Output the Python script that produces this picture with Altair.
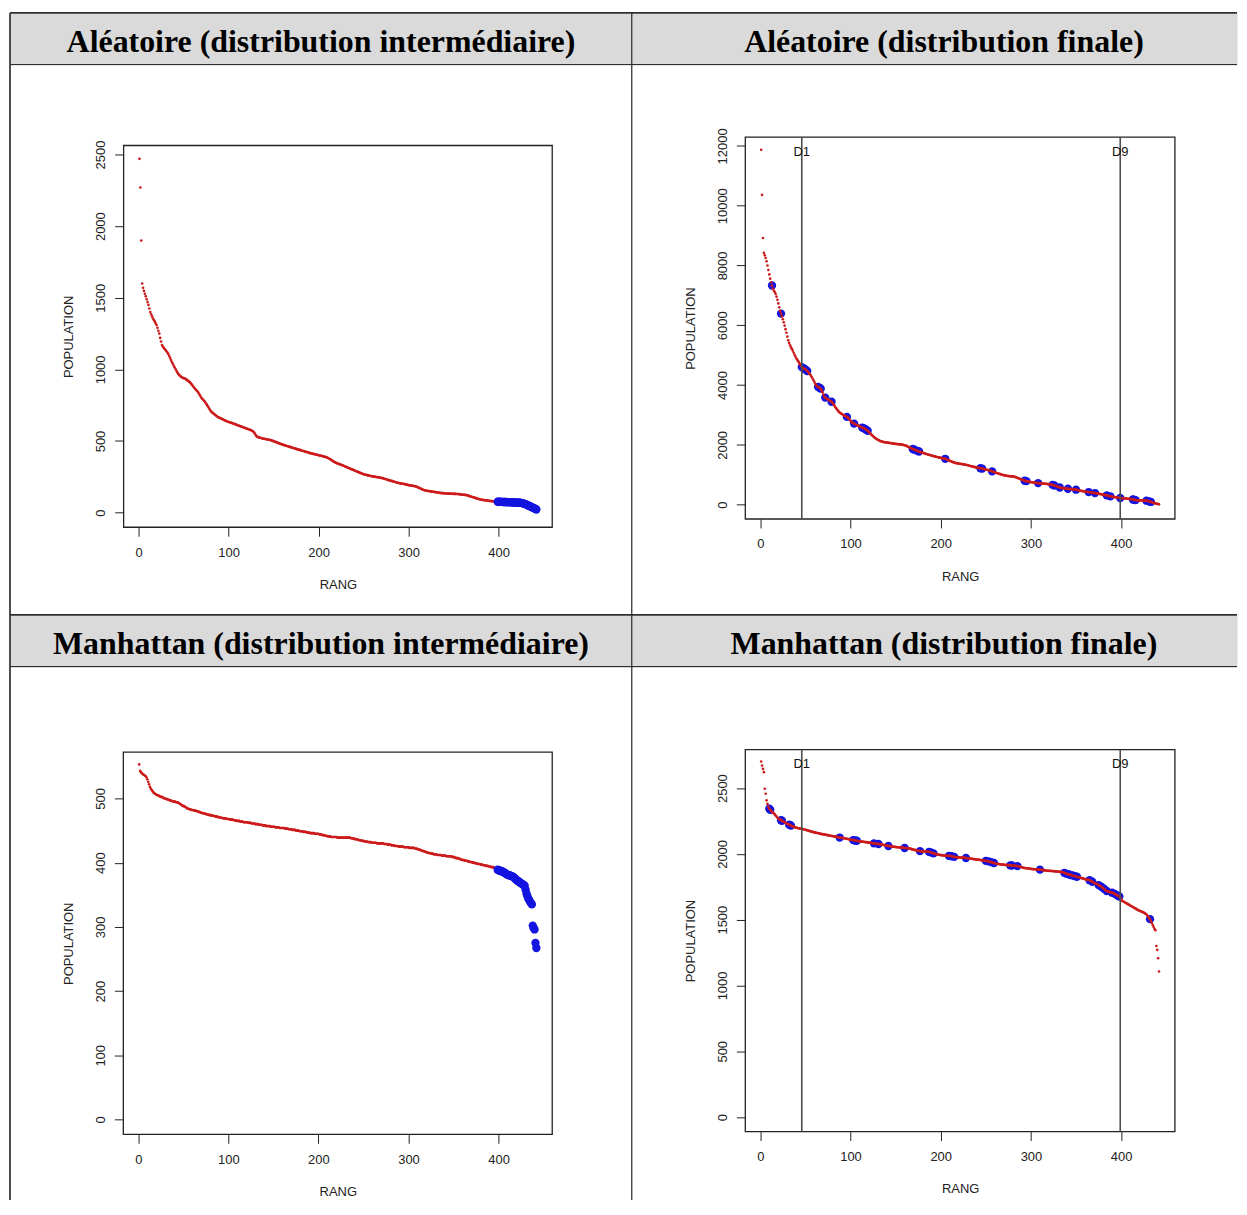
import altair as alt
import pandas as pd

# ---------------- data ----------------
titles = ["Aléatoire (distribution intermédiaire)", "Aléatoire (distribution finale)",
          "Manhattan (distribution intermédiaire)", "Manhattan (distribution finale)"]

rang_ticks = [0, 100, 200, 300, 400]

pop_alea_inter = [
    2470, 2270, 1900, 1600, 1570, 1548, 1528, 1510, 1490, 1470, 1450, 1425, 1400, 1385, 1370, 1355, 1345, 1335, 1322, 1310,
    1290, 1270, 1250, 1220, 1195, 1170, 1160, 1150, 1142, 1135, 1127, 1118, 1108, 1094, 1080, 1065, 1052, 1040, 1027, 1015,
    1003, 992, 980, 969, 962, 955, 950, 945, 942, 939, 937, 935, 930, 925, 920, 915, 911, 903, 895, 887,
    878, 870, 863, 856, 849, 842, 832, 821, 810, 800, 793, 786, 779, 772, 762, 752, 742, 732, 722, 712,
    703, 698, 693, 688, 683, 678, 673, 668, 665, 662, 659, 656, 653, 650, 647, 644, 641, 638, 636, 633,
    631, 629, 627, 625, 622, 620, 618, 616, 613, 610, 608, 606, 603, 601, 599, 596, 594, 592, 589, 587,
    585, 582, 580, 578, 575, 572, 568, 563, 553, 543, 534, 529, 527, 525, 523, 521, 519, 517, 516, 515,
    514, 512, 511, 510, 509, 507, 506, 503, 501, 499, 496, 494, 492, 489, 487, 484, 482, 480, 477, 475,
    473, 471, 469, 467, 465, 463, 461, 459, 457, 455, 453, 451, 449, 447, 445, 443, 441, 440, 438, 436,
    434, 432, 430, 428, 426, 424, 423, 421, 419, 417, 415, 413, 412, 410, 409, 407, 406, 404, 403, 401,
    400, 398, 397, 395, 393, 391, 390, 388, 386, 383, 380, 376, 372, 368, 364, 360, 356, 352, 349, 346,
    343, 341, 339, 337, 334, 332, 329, 327, 324, 321, 318, 315, 313, 310, 308, 305, 302, 300, 297, 294,
    291, 289, 286, 283, 281, 278, 276, 273, 271, 268, 266, 265, 263, 262, 260, 259, 257, 256, 254, 253,
    252, 251, 250, 249, 248, 247, 246, 245, 243, 242, 241, 239, 237, 235, 233, 231, 229, 227, 225, 223,
    222, 220, 218, 216, 214, 212, 210, 208, 207, 205, 204, 203, 202, 201, 200, 199, 197, 195, 194, 192,
    191, 190, 189, 188, 187, 186, 184, 183, 181, 178, 175, 172, 169, 166, 163, 160, 158, 156, 154, 153,
    152, 151, 150, 149, 148, 147, 146, 145, 144, 143, 142, 141, 140, 139, 138, 137, 136, 136, 135, 135,
    134, 134, 134, 133, 133, 133, 132, 132, 132, 131, 131, 131, 130, 130, 130, 129, 128, 127, 126, 125,
    125, 124, 124, 123, 121, 119, 117, 115, 113, 111, 109, 107, 105, 103, 101, 99, 97, 95, 93, 92,
    90, 89, 88, 87, 86, 86, 85, 84, 83, 82, 81, 80, 80, 79, 78, 78, 77, 77, 76, 76,
    76, 75, 75, 75, 74, 74, 74, 74, 73, 73, 73, 73, 72, 72, 72, 72, 71, 71, 71, 70,
    70, 70, 69, 69, 68, 67, 65, 63, 61, 59, 56, 53, 50, 47, 44, 41, 38, 35, 32, 29, 26, 22,
]

pop_alea_fin = [
    11870, 10360, 8920, 8420, 8340, 8250, 8140, 8000, 7850, 7700, 7560, 7440, 7330, 7230, 7160, 7110, 7050, 6960, 6850, 6730,
    6600, 6480, 6390, 6300, 6200, 6100, 5990, 5870, 5750, 5620, 5500, 5410, 5330, 5260, 5210, 5150, 5080, 5010, 4950, 4890,
    4850, 4800, 4750, 4700, 4650, 4600, 4580, 4560, 4540, 4520, 4500, 4470, 4440, 4400, 4360, 4320, 4270, 4220, 4160, 4100,
    4040, 3990, 3960, 3940, 3920, 3900, 3880, 3830, 3760, 3680, 3600, 3580, 3560, 3540, 3520, 3500, 3480, 3460, 3440, 3410,
    3370, 3320, 3270, 3230, 3190, 3150, 3110, 3080, 3060, 3040, 3020, 3000, 2980, 2965, 2950, 2935, 2920, 2880, 2840, 2800,
    2770, 2745, 2725, 2710, 2695, 2680, 2665, 2650, 2635, 2620, 2605, 2590, 2578, 2565, 2550, 2535, 2515, 2495, 2470, 2440,
    2410, 2380, 2350, 2320, 2290, 2260, 2235, 2215, 2195, 2175, 2160, 2145, 2130, 2118, 2108, 2100, 2093, 2087, 2082, 2077,
    2072, 2068, 2064, 2060, 2055, 2050, 2045, 2040, 2036, 2032, 2028, 2025, 2022, 2018, 2014, 2010, 2005, 2000, 1993, 1985,
    1978, 1965, 1950, 1935, 1920, 1905, 1890, 1875, 1862, 1850, 1838, 1826, 1814, 1800, 1788, 1778, 1765, 1755, 1745, 1735,
    1725, 1715, 1705, 1695, 1685, 1675, 1667, 1659, 1650, 1641, 1632, 1624, 1616, 1608, 1600, 1593, 1586, 1579, 1572, 1565,
    1558, 1551, 1545, 1539, 1533, 1520, 1507, 1494, 1481, 1468, 1455, 1442, 1430, 1418, 1406, 1395, 1389, 1383, 1378, 1373,
    1368, 1363, 1358, 1353, 1348, 1343, 1338, 1333, 1325, 1317, 1309, 1301, 1293, 1285, 1277, 1269, 1261, 1253, 1246, 1239,
    1233, 1228, 1223, 1218, 1212, 1205, 1197, 1189, 1181, 1173, 1165, 1157, 1149, 1141, 1133, 1125, 1111, 1100, 1090, 1080,
    1070, 1060, 1050, 1040, 1030, 1020, 1010, 1000, 993, 986, 979, 972, 966, 961, 957, 953, 950, 947, 945, 943,
    940, 930, 920, 908, 896, 884, 872, 860, 848, 836, 824, 812, 800, 793, 786, 779, 772, 766, 760, 755,
    750, 745, 740, 735, 731, 727, 724, 721, 718, 715, 712, 709, 706, 703, 700, 697, 694, 691, 688, 685,
    680, 675, 668, 660, 650, 640, 630, 620, 608, 595, 580, 572, 566, 560, 555, 550, 545, 540, 536, 533,
    530, 527, 524, 521, 518, 515, 512, 509, 505, 500, 493, 486, 479, 472, 465, 458, 452, 446, 440, 435,
    431, 427, 424, 421, 416, 411, 406, 401, 396, 391, 387, 382, 376, 370, 364, 358, 352, 346, 340, 334,
    328, 322, 316, 310, 302, 294, 286, 278, 272, 266, 261, 256, 251, 246, 241, 236, 231, 227, 223, 219,
    216, 213, 210, 207, 204, 201, 198, 195, 192, 189, 185, 180, 172, 166, 160, 152, 148, 146, 144, 143,
    142, 141, 140, 139, 138, 136, 134, 132, 128, 120, 110, 100, 90, 80, 70, 60, 50, 42, 34, 26, 18, 10,
]

pop_manh_inter = [
    553, 543, 541, 539, 538, 537, 536, 535, 533, 530, 526, 522, 518, 515, 513, 511, 509, 508, 507, 506,
    505, 505, 504, 503, 503, 502, 502, 501, 500, 500, 499, 499, 498, 498, 497, 497, 496, 496, 495, 495,
    495, 494, 494, 494, 493, 492, 491, 490, 489, 488, 488, 487, 486, 485, 484, 484, 483, 483, 482, 482,
    482, 481, 481, 481, 480, 480, 479, 479, 478, 478, 477, 477, 477, 476, 476, 475, 475, 475, 474, 474,
    474, 473, 473, 473, 472, 472, 472, 471, 471, 471, 470, 470, 470, 469, 469, 469, 469, 468, 468, 468,
    468, 467, 467, 467, 467, 466, 466, 466, 465, 465, 465, 465, 464, 464, 464, 464, 463, 463, 463, 463,
    463, 462, 462, 462, 462, 461, 461, 461, 461, 460, 460, 460, 460, 459, 459, 459, 459, 458, 458, 458,
    458, 457, 457, 457, 457, 457, 456, 456, 456, 456, 456, 455, 455, 455, 455, 455, 454, 454, 454, 454,
    454, 454, 453, 453, 453, 453, 452, 452, 452, 452, 451, 451, 451, 451, 450, 450, 450, 450, 449, 449,
    449, 449, 448, 448, 448, 448, 447, 447, 447, 447, 446, 446, 446, 446, 446, 445, 445, 445, 445, 445,
    444, 444, 444, 443, 443, 443, 442, 442, 442, 441, 441, 441, 441, 440, 440, 440, 440, 440, 440, 440,
    439, 439, 439, 439, 439, 439, 439, 439, 439, 439, 439, 439, 439, 439, 439, 438, 438, 438, 437, 437,
    437, 436, 436, 436, 435, 435, 435, 434, 434, 434, 433, 433, 433, 433, 432, 432, 432, 432, 431, 431,
    431, 431, 431, 431, 430, 430, 430, 430, 430, 430, 430, 430, 429, 429, 429, 429, 428, 428, 428, 428,
    427, 427, 427, 427, 426, 426, 426, 426, 425, 425, 425, 425, 425, 425, 424, 424, 424, 424, 424, 424,
    423, 423, 423, 423, 423, 423, 422, 422, 422, 421, 421, 420, 420, 419, 419, 418, 418, 417, 417, 416,
    416, 415, 415, 415, 414, 414, 414, 413, 413, 413, 413, 412, 412, 412, 412, 412, 411, 411, 411, 411,
    411, 410, 410, 410, 410, 410, 410, 409, 409, 409, 408, 408, 407, 407, 407, 406, 406, 405, 405, 404,
    404, 404, 403, 403, 403, 402, 402, 401, 401, 401, 400, 400, 400, 399, 399, 399, 398, 398, 398, 397,
    397, 397, 396, 396, 396, 395, 395, 395, 394, 394, 394, 393, 393, 393, 392, 392, 391, 390, 389, 388,
    388, 387, 387, 386, 386, 385, 384, 383, 382, 381, 381, 380, 380, 379, 379, 378, 377, 376, 374, 373,
    372, 371, 370, 369, 368, 367, 366, 365, 364, 358, 352, 348, 344, 342, 339, 337, 335, 302, 298, 296, 275, 267,
]

pop_manh_fin = [
    2702, 2672, 2646, 2621, 2495, 2457, 2407, 2380, 2357, 2343, 2335, 2327, 2320, 2314, 2308, 2300, 2292, 2284, 2276, 2268,
    2264, 2260, 2256, 2252, 2248, 2244, 2240, 2236, 2232, 2228, 2225, 2222, 2219, 2215, 2211, 2208, 2205, 2203, 2201, 2199,
    2197, 2195, 2194, 2193, 2192, 2191, 2189, 2187, 2185, 2183, 2181, 2179, 2177, 2175, 2173, 2171, 2169, 2167, 2165, 2163,
    2161, 2160, 2159, 2158, 2156, 2154, 2152, 2151, 2150, 2148, 2147, 2146, 2144, 2143, 2142, 2140, 2139, 2138, 2136, 2135,
    2134, 2133, 2131, 2130, 2129, 2127, 2126, 2124, 2123, 2122, 2121, 2120, 2118, 2117, 2116, 2115, 2113, 2112, 2110, 2108,
    2107, 2106, 2105, 2104, 2102, 2101, 2100, 2098, 2097, 2096, 2095, 2094, 2093, 2092, 2091, 2090, 2089, 2088, 2087, 2086,
    2085, 2084, 2083, 2082, 2081, 2080, 2079, 2078, 2077, 2076, 2075, 2074, 2073, 2072, 2070, 2069, 2067, 2066, 2064, 2062,
    2061, 2060, 2059, 2058, 2057, 2056, 2055, 2054, 2053, 2052, 2051, 2050, 2050, 2049, 2049, 2048, 2047, 2047, 2046, 2045,
    2045, 2044, 2043, 2042, 2041, 2040, 2038, 2036, 2034, 2032, 2030, 2028, 2026, 2024, 2023, 2022, 2021, 2020, 2019, 2019,
    2018, 2018, 2017, 2017, 2016, 2016, 2015, 2014, 2012, 2010, 2007, 2004, 2002, 2000, 1998, 1996, 1995, 1993, 1992, 1991,
    1990, 1989, 1988, 1988, 1987, 1987, 1986, 1986, 1985, 1985, 1984, 1982, 1980, 1978, 1977, 1976, 1975, 1974, 1974, 1973,
    1973, 1972, 1972, 1971, 1971, 1970, 1970, 1969, 1968, 1967, 1966, 1965, 1964, 1963, 1962, 1961, 1960, 1959, 1958, 1957,
    1956, 1955, 1954, 1953, 1952, 1951, 1950, 1949, 1948, 1947, 1946, 1945, 1943, 1941, 1939, 1937, 1935, 1933, 1931, 1929,
    1927, 1925, 1924, 1923, 1922, 1921, 1920, 1919, 1918, 1917, 1916, 1916, 1915, 1915, 1914, 1914, 1913, 1913, 1912, 1912,
    1911, 1910, 1909, 1908, 1907, 1906, 1904, 1902, 1900, 1898, 1896, 1894, 1893, 1892, 1891, 1890, 1889, 1888, 1887, 1886,
    1885, 1884, 1884, 1883, 1883, 1882, 1882, 1881, 1881, 1880, 1879, 1878, 1877, 1876, 1875, 1874, 1873, 1872, 1872, 1871,
    1871, 1870, 1870, 1869, 1869, 1868, 1867, 1867, 1866, 1866, 1865, 1864, 1863, 1862, 1861, 1859, 1856, 1853, 1850, 1848,
    1846, 1844, 1842, 1840, 1838, 1836, 1834, 1832, 1830, 1828, 1826, 1824, 1822, 1820, 1818, 1816, 1814, 1812, 1810, 1808,
    1806, 1804, 1803, 1802, 1800, 1796, 1792, 1788, 1784, 1780, 1777, 1774, 1771, 1767, 1763, 1759, 1755, 1750, 1745, 1740,
    1735, 1728, 1722, 1718, 1715, 1713, 1711, 1709, 1707, 1705, 1702, 1699, 1696, 1692, 1688, 1684, 1680, 1676, 1668, 1656,
    1644, 1640, 1636, 1632, 1628, 1624, 1620, 1616, 1612, 1608, 1604, 1600, 1596, 1592, 1588, 1584, 1580, 1576, 1572, 1569,
    1566, 1563, 1560, 1557, 1554, 1550, 1545, 1540, 1532, 1522, 1512, 1504, 1490, 1475, 1460, 1445, 1430, 1420, 1300, 1270, 1207, 1106,
]

# ranks highlighted in blue
blue_alea_inter = list(range(399, 443))
blue_alea_fin = [13, 23, 46, 48, 50, 52, 64, 66, 67, 72, 79, 96, 104, 113, 115, 117, 119, 169, 171, 174, 176,
                 205, 244, 246, 257, 293, 295, 308, 324, 326, 332, 341, 350, 364, 371, 384, 388, 399, 413, 414,
                 416, 428, 431, 433]
blue_manh_inter = list(range(399, 443))
blue_manh_fin = [10, 11, 23, 24, 32, 33, 34, 88, 103, 105, 107, 126, 131, 142, 160, 177, 187, 189, 192, 209,
                 212, 215, 228, 250, 253, 256, 259, 277, 279, 285, 310, 337, 339, 341, 343, 345, 348, 351, 365,
                 368, 375, 378, 381, 384, 390, 393, 396, 398, 432]

deciles = [46, 399]
decile_labels = ["D1", "D9"]

yticks_alea_inter = [0, 500, 1000, 1500, 2000, 2500]
yticks_alea_fin = [0, 2000, 4000, 6000, 8000, 10000, 12000]
yticks_manh_inter = [0, 100, 200, 300, 400, 500]
yticks_manh_fin = [0, 500, 1000, 1500, 2000, 2500]

# ---------------- style / layout ----------------
SANS = "Liberation Sans, Arial, sans-serif"
SERIF = "Liberation Serif, Times New Roman, serif"
RED = "#cc1a1a"
BLUE = "#1414e0"
LINE = "#2e2e2e"
LW = 1.7
HEAD_FILL = "#dadada"
HEAD_H = 52
BODY_H = [552, 535]
COL_W = [624, 607]
XDOM = [-16.6, 459.6]
ONE = pd.DataFrame({"k": [0]})


def hline(y, w):
    return alt.Chart(ONE).mark_rule(color=LINE, strokeWidth=LW).encode(
        x=alt.value(0), x2=alt.value(w), y=alt.value(y))


def vline(x, h):
    return alt.Chart(ONE).mark_rule(color=LINE, strokeWidth=LW).encode(
        x=alt.value(x), y=alt.value(0), y2=alt.value(h))


def header(title, w, cx, left_col):
    txt = alt.Chart(pd.DataFrame({"t": [title]})).mark_text(
        font=SERIF, fontSize=32, fontWeight="bold", color="black",
        baseline="alphabetic", align="center"
    ).encode(text="t:N", x=alt.value(cx), y=alt.value(39))
    layers = [txt, hline(0, w), hline(HEAD_H, w)]
    if left_col:
        layers += [vline(0, HEAD_H), vline(w, HEAD_H)]
    return alt.layer(*layers).properties(
        width=w, height=HEAD_H,
        view=alt.ViewBackground(fill=HEAD_FILL, stroke="transparent"),
    )


def body(pop, blue, yticks, ydom, box, w, h, left_col, red_on_top, dec_label_y=None):
    x0, x1, y0, y1 = box
    df = pd.DataFrame({"rang": list(range(1, len(pop) + 1)), "pop": pop})
    dfb = df[df["rang"].isin(blue)]
    xs = alt.Scale(domain=XDOM, range=[x0, x1], nice=False, zero=False)
    ys = alt.Scale(domain=ydom, range=[y1, y0], nice=False, zero=False)
    xaxis = alt.Axis(values=rang_ticks, format="d", offset=-(h - y1), labelBaseline="alphabetic",
                     labelAlign="center", labelPadding=20,
                     titleX=(x0 + x1) / 2, titleY=61.3, titleBaseline="alphabetic",
                     titleAlign="center")
    yaxis = alt.Axis(values=yticks, format="d", offset=-x0, labelAngle=270, labelAlign="center",
                     labelBaseline="alphabetic", labelPadding=9.7,
                     titleX=-51.4, titleY=(y0 + y1) / 2, titleAngle=270,
                     titleBaseline="alphabetic", titleAlign="center")
    frame = pd.DataFrame({"rang": [XDOM[0]], "rang2": [XDOM[1]], "pop": [ydom[0]], "pop2": [ydom[1]]})
    box_layer = alt.Chart(frame).mark_rect(fillOpacity=0, stroke="#222222", strokeWidth=1.3).encode(
        x=alt.X("rang:Q", scale=xs, axis=xaxis, title="RANG"),
        x2="rang2:Q",
        y=alt.Y("pop:Q", scale=ys, axis=yaxis, title="POPULATION"),
        y2="pop2:Q",
    )
    red = alt.Chart(df).mark_circle(size=7, color=RED, opacity=1).encode(
        x=alt.X("rang:Q", scale=xs), y=alt.Y("pop:Q", scale=ys))
    blu = alt.Chart(dfb).mark_circle(size=70, color=BLUE, opacity=1).encode(
        x=alt.X("rang:Q", scale=xs), y=alt.Y("pop:Q", scale=ys))
    layers = [box_layer] + ([blu, red] if red_on_top else [red, blu])
    if dec_label_y is not None:
        dd = pd.DataFrame({"rang": deciles, "pop": [ydom[0]] * 2, "pop2": [ydom[1]] * 2,
                           "lab": decile_labels, "ly": [dec_label_y] * 2})
        rules = alt.Chart(dd).mark_rule(color="#4d4d4d", strokeWidth=1.6).encode(
            x=alt.X("rang:Q", scale=xs), y=alt.Y("pop:Q", scale=ys), y2="pop2:Q")
        texts = alt.Chart(dd).mark_text(font=SANS, fontSize=13, color="#111111", baseline="middle").encode(
            x=alt.X("rang:Q", scale=xs), y=alt.Y("ly:Q", scale=ys), text="lab:N")
        layers += [rules, texts]
    if left_col:
        layers += [vline(0, h), vline(w, h)]
    return alt.layer(*layers).properties(
        width=w, height=h,
        view=alt.ViewBackground(fill="white", stroke="transparent"),
    )


h1 = header(titles[0], COL_W[0], 312, True)
h2 = header(titles[1], COL_W[1], 313, False)
h3 = header(titles[2], COL_W[0], 312, True)
h4 = header(titles[3], COL_W[1], 313, False)

b1 = body(pop_alea_inter, blue_alea_inter, yticks_alea_inter, [-102, 2563], (114, 544, 81, 464),
          COL_W[0], BODY_H[0], True, False)
b2 = body(pop_alea_fin, blue_alea_fin, yticks_alea_fin, [-480, 12290], (113.7, 544.7, 72.7, 455.7),
          COL_W[1], BODY_H[0], False, True, 11810)
b3 = body(pop_manh_inter, blue_manh_inter, yticks_manh_inter, [-23, 572], (113.7, 544, 85.7, 469),
          COL_W[0], BODY_H[1], True, False)
b4 = body(pop_manh_fin, blue_manh_fin, yticks_manh_fin, [-110.6, 2793], (113.7, 544.7, 83, 466.3),
          COL_W[1], BODY_H[1], False, True, 2685)

chart = alt.concat(h1, h2, b1, b2, h3, h4, b3, b4, columns=2, spacing=0, bounds="flush",
                   align="each").properties(
    padding={"left": 0, "top": 1, "right": 0, "bottom": 0},
    background="white",
).configure_axis(
    grid=False, domain=False, ticks=True, tickSize=9, tickWidth=1, tickColor="#222222",
    labelFont=SANS, labelFontSize=13, labelColor="#222222",
    titleFont=SANS, titleFontSize=13, titleFontWeight="normal", titleColor="#222222",
    labelOverlap=False, labelFlush=False,
)

chart.save("out.html", embed_options={"renderer": "svg", "actions": False})
